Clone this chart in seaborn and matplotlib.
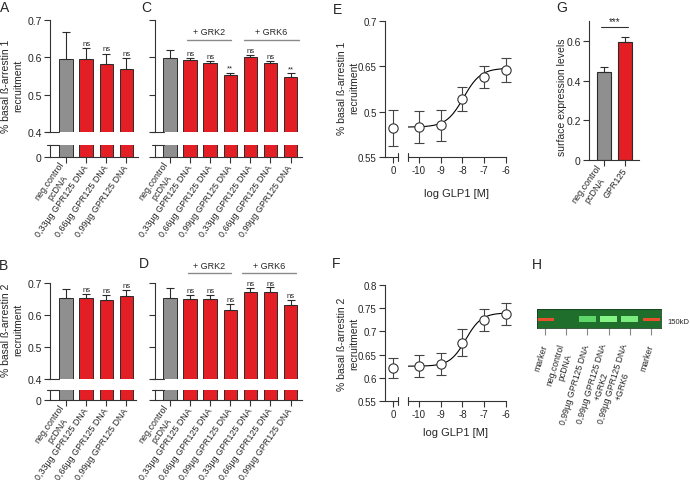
import numpy as np
import pandas as pd
import seaborn as sns
import matplotlib.pyplot as plt

sns.set_style("ticks")
plt.rcParams['font.family'] = ['Liberation Sans', 'DejaVu Sans']

GRAY = "#8f8f8f"
RED = "#e31e25"
EDGE = "#2b2b2b"
AXC = "#333333"

# ---- data ----
dose_labels = ["neg.control\npcDNA", "0,33µg GPR125 DNA", "0,66µg GPR125 DNA", "0,99µg GPR125 DNA"]
grk_labels = dose_labels + dose_labels[1:]

a_mean = [0.595, 0.595, 0.581, 0.570]
a_err = [0.074, 0.031, 0.029, 0.029]
a_sig = ["", "ns", "ns", "ns"]

c_mean = [0.597, 0.593, 0.584, 0.553, 0.600, 0.585, 0.548]
c_err = [0.022, 0.006, 0.005, 0.006, 0.007, 0.006, 0.009]
c_sig = ["", "ns", "ns", "**", "ns", "ns", "**"]

b_mean = [0.653, 0.652, 0.647, 0.660]
b_err = [0.028, 0.014, 0.017, 0.019]
b_sig = ["", "ns", "ns", "ns"]

d_mean = [0.654, 0.651, 0.650, 0.616, 0.672, 0.673, 0.631]
d_err = [0.030, 0.012, 0.014, 0.019, 0.012, 0.013, 0.016]
d_sig = ["", "ns", "ns", "ns", "ns", "ns", "ns"]

log_conc = [-10, -9, -8, -7, -6]
e_base, e_base_err = 0.582, 0.020
e_mean = [0.583, 0.585, 0.614, 0.638, 0.646]
e_err = [0.018, 0.017, 0.013, 0.012, 0.013]
e_fit = dict(bottom=0.583, top=0.648, logec50=-7.95, hill=1.1)

f_base, f_base_err = 0.621, 0.022
f_mean = [0.625, 0.630, 0.676, 0.724, 0.737]
f_err = [0.024, 0.023, 0.029, 0.024, 0.024]
f_fit = dict(bottom=0.625, top=0.740, logec50=-7.85, hill=1.2)

g_labels = ["neg.control\npcDNA", "GPR125"]
g_mean = [0.443, 0.593]
g_err = [0.025, 0.027]

h_lanes = ["marker", "neg.control\npcDNA", "0,99µg GPR125 DNA",
           "0,99µg GPR125 DNA\n+GRK2", "0,99µg GPR125 DNA\n+GRK6", "marker"]
h_band_color = ["#e8502c", "#1f6e2b", "#5fd66a", "#86f386", "#7cec7e", "#e8502c"]
h_band_height = [0.16, 0.0, 0.30, 0.30, 0.30, 0.16]

W, H = 690, 481
fig = plt.figure(figsize=(6.9, 4.81), dpi=100)


def px_axes(x0, y0, x1, y1):
    return fig.add_axes([x0 / W, 1 - y1 / H, (x1 - x0) / W, (y1 - y0) / H])


def style(ax, fs=7.5):
    for s in ax.spines.values():
        s.set_color(AXC)
        s.set_linewidth(0.8)
    ax.tick_params(length=4, width=0.8, color=AXC, labelsize=fs, pad=2)
    ax.set_xlabel("")
    ax.set_ylabel("")


def bar_panel(top_box, bot_box, labels, mean, err, sig, xlim, yticks, ylabels):
    top = px_axes(*top_box)
    bot = px_axes(*bot_box)
    n = len(mean)
    df = pd.DataFrame({"pos": range(n), "val": mean,
                       "grp": ["ctrl"] + ["gpr"] * (n - 1)})
    for ax in (top, bot):
        sns.barplot(data=df, x="pos", y="val", hue="grp",
                    palette={"ctrl": GRAY, "gpr": RED}, dodge=False,
                    width=0.67, edgecolor=EDGE, linewidth=0.7, saturation=1,
                    errorbar=None, legend=False, ax=ax)
        ax.set_xlim(*xlim)
        style(ax)
    top.errorbar(range(n), mean, yerr=[np.zeros(n), err], fmt="none",
                 ecolor=EDGE, elinewidth=0.8, capsize=3, capthick=0.8)
    for i, s in enumerate(sig):
        if s:
            top.text(i, mean[i] + err[i] + 0.003, s, ha="center", va="bottom",
                     fontsize=5.5, color="#222222")
    top.set_ylim(0.4, 0.7)
    top.set_yticks(yticks)
    top.set_yticklabels(ylabels)
    top.tick_params(bottom=False, labelbottom=False)
    sns.despine(ax=top, bottom=True)
    bot.set_ylim(0, 0.05)
    bot.set_yticks([0])
    bot.set_yticklabels(["0"] if ylabels[0] else [""])
    bot.set_xticks(range(n))
    bot.set_xticklabels(labels, rotation=55, ha="right", rotation_mode="anchor",
                        fontsize=6.4, va="center", multialignment="center")
    sns.despine(ax=bot)
    # break caps on the y axis
    wt = top_box[2] - top_box[0]
    top.plot([-3 / wt, 9 / wt], [0, 0], transform=top.transAxes, color=AXC,
             lw=0.8, clip_on=False)
    bot.plot([-3 / wt, 9 / wt], [1, 1], transform=bot.transAxes, color=AXC,
             lw=0.8, clip_on=False)
    return top, bot


tick_lbl = ["0.4", "0.5", "0.6", "0.7"]
no_lbl = ["", "", "", ""]
ticks = [0.4, 0.5, 0.6, 0.7]

# A
bar_panel((50, 21, 138, 133), (50, 146, 138, 158), dose_labels, a_mean, a_err,
          a_sig, (-0.8, 3.58), ticks, tick_lbl)
# C
topC, _ = bar_panel((155, 21, 302, 133), (155, 146, 302, 158), grk_labels,
                    c_mean, c_err, c_sig, (-0.75, 6.57), ticks, no_lbl)
for x0, x1, t in [(0.85, 3.05, "+ GRK2"), (3.7, 6.4, "+ GRK6")]:
    topC.plot([x0, x1], [0.646, 0.646], color="#8a8a8a", lw=1, clip_on=False)
    topC.text((x0 + x1) / 2, 0.668, t, ha="center", va="center", fontsize=6.5)
# B
bar_panel((50, 284, 136, 380), (50, 391, 136, 401), dose_labels, b_mean, b_err,
          b_sig, (-0.8, 3.48), ticks, tick_lbl)
# D
topD, _ = bar_panel((155, 284, 302, 380), (155, 391, 302, 401), grk_labels,
                    d_mean, d_err, d_sig, (-0.75, 6.57), ticks, no_lbl)
for x0, x1, t in [(0.9, 3.03, "+ GRK2"), (3.6, 6.27, "+ GRK6")]:
    topD.plot([x0, x1], [0.731, 0.731], color="#8a8a8a", lw=1, clip_on=False)
    topD.text((x0 + x1) / 2, 0.756, t, ha="center", va="center", fontsize=6.5)


def curve_panel(y0, y1, base, base_err, mean, err, fit, ylim, yticks, ylabels):
    unit = 21.75  # px per log unit
    axL = px_axes(385, y0, 398, y1)
    axR = px_axes(408, y0, 506, y1)
    axL.set_xlim(-8 / unit, 5 / unit)
    axR.set_xlim(-10.5, -6.0)
    for ax in (axL, axR):
        ax.set_ylim(*ylim)
        style(ax, fs=7)
    sns.despine(ax=axL)
    sns.despine(ax=axR, left=True)
    axR.tick_params(left=False, labelleft=False)
    axL.set_yticks(yticks)
    axL.set_yticklabels(ylabels)
    axL.set_xticks([0])
    axL.set_xticklabels(["0"])
    axR.set_xticks(log_conc)
    axR.set_xticklabels([str(v) for v in log_conc])

    xs = np.linspace(-10.5, -6.0, 200)
    ys = fit["bottom"] + (fit["top"] - fit["bottom"]) / (
        1 + 10 ** ((fit["logec50"] - xs) * fit["hill"]))
    sns.lineplot(x=xs, y=ys, ax=axR, color="black", lw=0.8)

    axL.errorbar([0], [base], yerr=[base_err], fmt="none", ecolor="#444444",
                 elinewidth=0.8, capsize=3.5, capthick=0.8, clip_on=False)
    axR.errorbar(log_conc, mean, yerr=err, fmt="none", ecolor="#444444",
                 elinewidth=0.8, capsize=3.5, capthick=0.8, clip_on=False)
    sns.scatterplot(x=[0], y=[base], ax=axL, s=45, color="white",
                    edgecolor="#333333", linewidth=0.8, zorder=4, clip_on=False)
    sns.scatterplot(x=log_conc, y=mean, ax=axR, s=45, color="white",
                    edgecolor="#333333", linewidth=0.8, zorder=4, clip_on=False)
    # break caps on the x axis
    h = y1 - y0
    axL.plot([1, 1], [-4 / h, 4 / h], transform=axL.transAxes, color=AXC, lw=0.8, clip_on=False)
    axR.plot([0, 0], [-4 / h, 4 / h], transform=axR.transAxes, color=AXC, lw=0.8, clip_on=False)


# E
curve_panel(22, 158, e_base, e_base_err, e_mean, e_err, e_fit, (0.55, 0.7),
            [0.55, 0.6, 0.65, 0.7], ["0.55", "0.5", "0.65", "0.7"])
fig.text(457 / W, 1 - 194 / H, "log GLP1 [M]", ha="center", va="center", fontsize=8)
# F
curve_panel(286, 402, f_base, f_base_err, f_mean, f_err, f_fit, (0.55, 0.8),
            [0.55, 0.6, 0.65, 0.7, 0.75, 0.8],
            ["0.55", "0.6", "0.65", "0.7", "0.75", "0.8"])
fig.text(455 / W, 1 - 433 / H, "log GLP1 [M]", ha="center", va="center", fontsize=8)

# G
axG = px_axes(589, 22, 639, 161)
sns.barplot(x=[0, 1], y=g_mean, hue=["ctrl", "gpr"], palette={"ctrl": GRAY, "gpr": RED},
            dodge=False, width=0.67, edgecolor=EDGE, linewidth=0.8, errorbar=None,
            saturation=1, legend=False, ax=axG)
axG.errorbar([0, 1], g_mean, yerr=[[0, 0], g_err], fmt="none", ecolor=EDGE,
             elinewidth=0.8, capsize=3, capthick=0.8)
axG.set_xlim(-0.71, 1.67)
axG.set_ylim(0, 0.7)
style(axG)
axG.set_yticks([0, 0.2, 0.4, 0.6])
axG.set_yticklabels(["0", "0.2", "0.4", "0.6"])
axG.set_xticks([0, 1])
axG.set_xticklabels(g_labels, rotation=55, ha="right", rotation_mode="anchor",
                    va="center", fontsize=6.5, multialignment="center")
sns.despine(ax=axG)
axG.plot([-0.14, 1.14], [0.670, 0.670], color=AXC, lw=0.8, clip_on=False)
axG.text(0.5, 0.675, "***", ha="center", va="bottom", fontsize=7)

# H (blot)
axH = px_axes(537, 310, 661, 329)
axH.set_facecolor("#1f6e2b")
lanes = np.arange(len(h_lanes))
axH.bar(lanes, h_band_height, bottom=[0.47 - v / 2 for v in h_band_height],
        width=0.8, color=h_band_color, linewidth=0)
axH.set_xlim(-0.38, 5.47)
axH.set_ylim(0, 1)
for s in axH.spines.values():
    s.set_color("#173f1c")
    s.set_linewidth(0.6)
axH.set_yticks([])
axH.set_xticks(lanes)
axH.set_xticklabels(h_lanes, rotation=73, ha="right", rotation_mode="anchor",
                    va="center", fontsize=6.2, multialignment="center")
axH.tick_params(axis="x", length=5, width=0.8, color="#888888", pad=7)
fig.text(667 / W, 1 - 323 / H, "150kD", ha="left", va="center", fontsize=5.5)

# y labels
ylab = "% basal ß-arrestin {}\nrecruitment"
fig.text(12 / W, 1 - 86 / H, ylab.format(1), rotation=90, ha="center", va="center", fontsize=7.5)
fig.text(12 / W, 1 - 330 / H, ylab.format(2), rotation=90, ha="center", va="center", fontsize=7.5)
fig.text(348 / W, 1 - 88 / H, ylab.format(1), rotation=90, ha="center", va="center", fontsize=7.5)
fig.text(348 / W, 1 - 344 / H, ylab.format(2), rotation=90, ha="center", va="center", fontsize=7.5)
fig.text(562 / W, 1 - 97 / H, "surface expression levels", rotation=90,
         ha="center", va="center", fontsize=7.5)

# panel letters
for x, y, t in [(5, 8, "A"), (146, 8, "C"), (4, 266, "B"), (144, 264, "D"),
                (337, 10, "E"), (336, 264, "F"), (562, 8, "G"), (537, 265, "H")]:
    fig.text(x / W, 1 - y / H, t, ha="center", va="center", fontsize=10)

fig.savefig("out.png", dpi=100)
